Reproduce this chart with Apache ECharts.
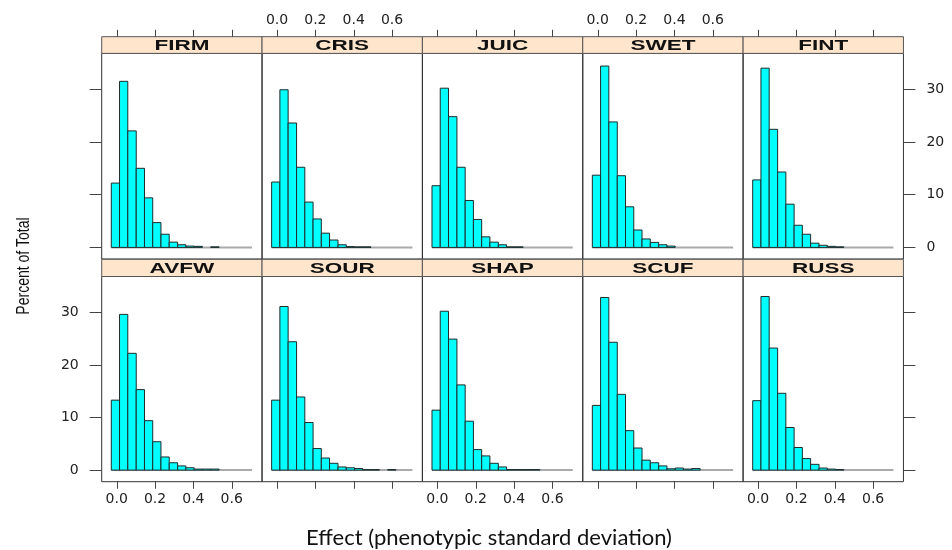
<!DOCTYPE html>
<html>
<head>
<meta charset="utf-8">
<script src="https://cdn.jsdelivr.net/npm/echarts@6/dist/echarts.min.js"></script>
<style>html,body{margin:0;padding:0;background:#fff;}#chart{width:952px;height:550px;}</style>
</head>
<body>
<div id="chart"></div>
<script>
// ---- data ----
var panelNames = ['FIRM', 'CRIS', 'JUIC', 'SWET', 'FINT', 'AVFW', 'SOUR', 'SHAP', 'SCUF', 'RUSS'];
var breaks = [-0.028, 0.015, 0.058, 0.102, 0.145, 0.188, 0.231, 0.274, 0.318, 0.361, 0.404, 0.447, 0.490, 0.534, 0.577, 0.620, 0.663, 0.706];
var FIRM = [12.2, 31.5, 22.1, 15.0, 9.4, 4.7, 2.5, 1.0, 0.5, 0.25, 0.2, 0, 0.1, 0, 0, 0, 0];
var CRIS = [12.4, 29.9, 23.6, 15.2, 8.6, 5.4, 2.7, 1.4, 0.5, 0.15, 0.1, 0.1, 0, 0, 0, 0, 0];
var JUIC = [11.7, 30.2, 24.8, 15.2, 8.9, 5.3, 2.0, 1.0, 0.5, 0.1, 0.1, 0, 0, 0, 0, 0, 0];
var SWET = [13.7, 34.4, 23.8, 13.6, 7.7, 3.3, 1.6, 0.95, 0.5, 0.25, 0, 0, 0, 0, 0, 0, 0];
var FINT = [12.8, 34.0, 22.4, 14.3, 8.2, 4.2, 2.5, 0.8, 0.4, 0.2, 0.1, 0, 0, 0, 0, 0, 0];
var AVFW = [13.3, 29.6, 22.2, 15.3, 9.4, 5.4, 2.5, 1.4, 0.8, 0.45, 0.2, 0.2, 0.2, 0, 0, 0, 0];
var SOUR = [13.3, 31.1, 24.4, 13.9, 9.05, 4.1, 2.3, 1.3, 0.6, 0.45, 0.3, 0.1, 0.1, 0, 0.1, 0, 0];
var SHAP = [11.4, 30.2, 24.9, 16.2, 9.3, 3.9, 2.7, 1.3, 0.6, 0.1, 0.1, 0.1, 0.1, 0, 0, 0, 0];
var SCUF = [12.3, 32.8, 24.3, 14.4, 7.5, 4.2, 1.9, 1.4, 0.8, 0.25, 0.4, 0.2, 0.3, 0, 0, 0, 0];
var RUSS = [13.2, 33.0, 23.2, 14.6, 8.1, 4.3, 2.2, 1.1, 0.4, 0.2, 0.1, 0, 0, 0, 0, 0, 0];
var panelValues = [FIRM, CRIS, JUIC, SWET, FINT, AVFW, SOUR, SHAP, SCUF, RUSS];
var xTicks = [0.0, 0.2, 0.4, 0.6];
var yTicks = [0, 10, 20, 30];
var xTitle = 'Effect (phenotypic standard deviation)';
var yTitle = 'Percent of Total';

// ---- layout ----
var L0 = 101.7, PW = 160.35;
var rows = [
  {stripTop: 36.7, stripH: 16.7, plotTop: 53.4, plotH: 205.6},
  {stripTop: 259.3, stripH: 17.2, plotTop: 276.5, plotH: 205.2}
];
var xMin = -0.078, xMax = 0.758, yMin = -2.2, yMax = 36.8;
var tickColor = '#444';
var xTickLen = 7;
var labelFont = {fontFamily: 'DejaVu Sans', fontSize: 14, color: '#222'};

var grids = [], xAxes = [], yAxes = [], series = [], graphics = [];

panelNames.forEach(function (name, i) {
  var r = Math.floor(i / 5), c = i % 5;
  var R = rows[r];
  var left = L0 + c * PW;
  grids.push({left: left, top: R.plotTop, width: PW, height: R.plotH, show: true,
    borderColor: '#333', borderWidth: 1, backgroundColor: 'transparent', containLabel: false});

  var showXLabel = (r === 0) ? (c === 1 || c === 3) : (c === 0 || c === 2 || c === 4);
  xAxes.push({
    type: 'value', gridIndex: i, min: xMin, max: xMax, show: true,
    position: r === 0 ? 'top' : 'bottom',
    offset: r === 0 ? R.stripH : 0,
    axisLine: {show: false, onZero: false},
    splitLine: {show: false},
    axisTick: {show: false},
    axisLabel: Object.assign({show: showXLabel, customValues: xTicks, margin: r === 0 ? 9 : 11,
      formatter: function (v) { return v.toFixed(1); }}, labelFont)
  });

  var hasY = (c === 0 || c === 4);
  var showYLabel = (r === 1 && c === 0) || (r === 0 && c === 4);
  yAxes.push({
    type: 'value', gridIndex: i, min: yMin, max: yMax, show: hasY,
    position: c === 4 ? 'right' : 'left',
    axisLine: {show: false, onZero: false}, splitLine: {show: false},
    axisTick: {show: hasY, inside: false, length: 12, customValues: yTicks, lineStyle: {color: tickColor, width: 1}},
    axisLabel: Object.assign({show: showYLabel, customValues: yTicks, margin: 23}, labelFont)
  });

  var vals = panelValues[i];
  var data = [];
  for (var k = 0; k < vals.length; k++) {
    if (vals[k] > 0) data.push([breaks[k], breaks[k + 1], vals[k]]);
  }
  series.push({
    type: 'line', xAxisIndex: i, yAxisIndex: i, silent: true, symbol: 'none', z: 1,
    data: [[breaks[0], 0], [breaks[breaks.length - 1], 0]],
    lineStyle: {color: '#aaaaaa', width: 2}, animation: false
  });
  series.push({
    type: 'custom', name: name, xAxisIndex: i, yAxisIndex: i, z: 2, animation: false,
    data: data,
    renderItem: function (params, api) {
      var p0 = api.coord([api.value(0), api.value(2)]);
      var p1 = api.coord([api.value(1), 0]);
      return {type: 'rect',
        shape: {x: p0[0], y: p0[1], width: p1[0] - p0[0], height: p1[1] - p0[1]},
        style: {fill: '#00ffff', stroke: '#1f2a2a', lineWidth: 1}};
    }
  });

  // strip
  graphics.push({type: 'rect', shape: {x: left, y: R.stripTop, width: PW, height: R.stripH},
    style: {fill: '#ffe5cc', stroke: '#555', lineWidth: 1}, z: 5});
  graphics.push({type: 'text', x: left + PW / 2, y: R.stripTop + R.stripH / 2 + 0.5,
    scaleX: 1.5, z: 6,
    style: {text: name, fontFamily: 'Liberation Sans', fontWeight: 'bold', fontSize: 15,
      fill: '#111', align: 'center', verticalAlign: 'middle'}});

  // x tick marks along the axis range (above the strip / below the panel), as thin filled rects
  xTicks.forEach(function (v) {
    var px = Math.round(left + (v - xMin) / (xMax - xMin) * PW);
    var yEdge = r === 0 ? R.stripTop : R.plotTop + R.plotH;
    var yTop = r === 0 ? yEdge - xTickLen : yEdge;
    graphics.push({type: 'rect', z: 6, silent: true,
      shape: {x: px, y: yTop, width: 1, height: xTickLen},
      style: {fill: tickColor}});
  });
});

graphics.push({type: 'text', x: 24, y: 266, rotation: Math.PI / 2, scaleY: 1.3, z: 6,
  style: {text: yTitle, fontFamily: 'Liberation Sans', fontSize: 14, fill: '#111',
    align: 'center', verticalAlign: 'middle'}});
graphics.push({type: 'text', x: 489, y: 538, z: 6,
  style: {text: xTitle, fontFamily: 'Lato', fontSize: 22, fill: '#111',
    align: 'center', verticalAlign: 'middle'}});

var chart = echarts.init(document.getElementById('chart'), null, {renderer: 'canvas'});
chart.setOption({
  animation: false,
  backgroundColor: '#ffffff',
  grid: grids, xAxis: xAxes, yAxis: yAxes, series: series,
  graphic: graphics
});
</script>
</body>
</html>
